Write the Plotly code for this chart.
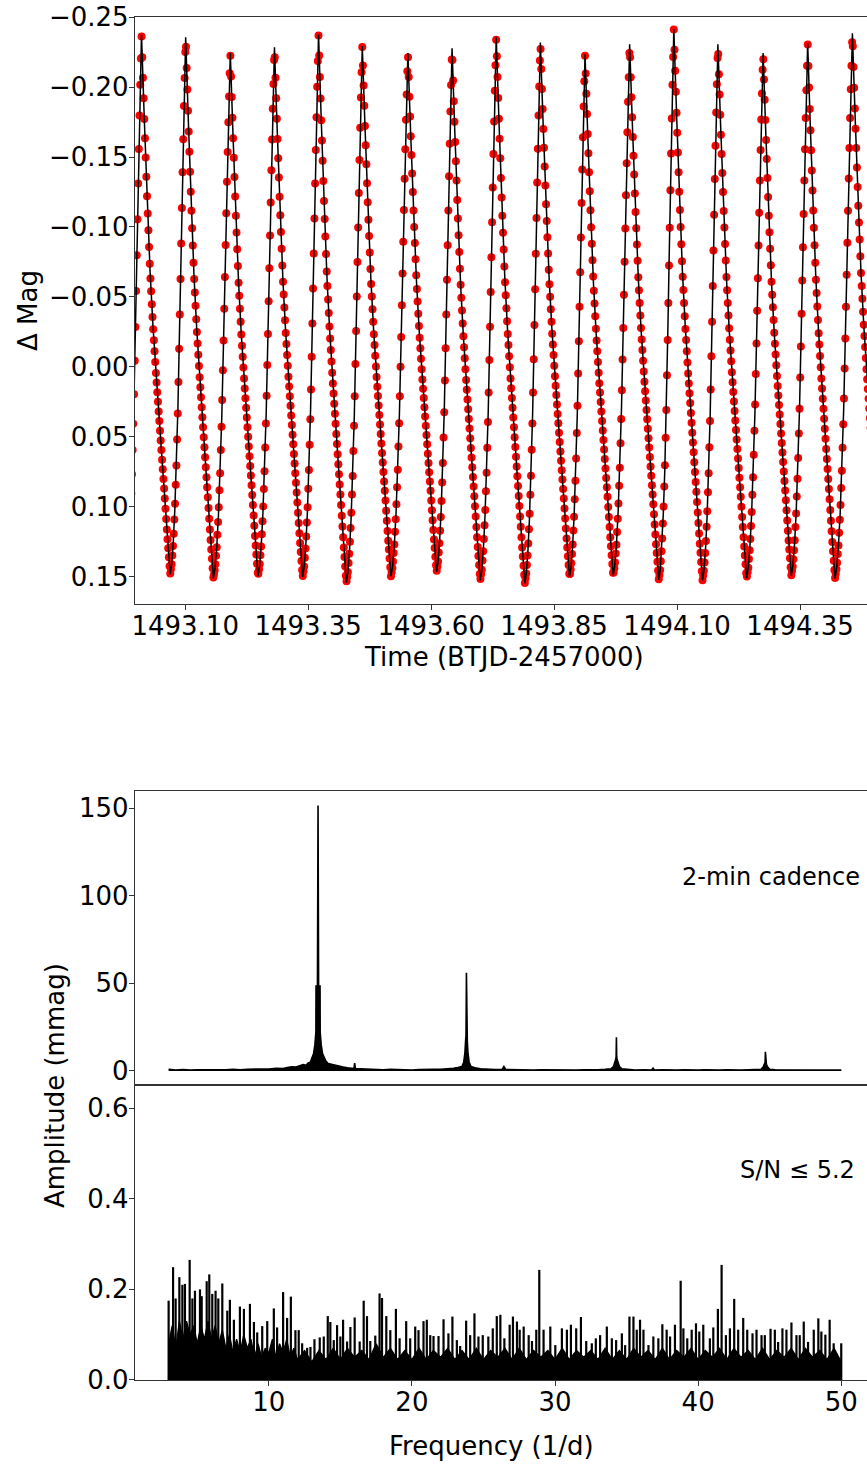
import numpy as np
import plotly.graph_objects as go

# ---------------- Light curve ----------------
# Times (BTJD-2457000) and Delta Mag of the light-curve maxima and minima
max_times = [1493.0112, 1493.1010, 1493.1917, 1493.2815, 1493.3711, 1493.4600,
             1493.5527, 1493.6425, 1493.7323, 1493.8220, 1493.9128, 1494.0035,
             1494.0933, 1494.1829, 1494.2748, 1494.3654, 1494.4563]
max_mags = [-0.2374, -0.2355, -0.2243, -0.2283, -0.2374, -0.2293, -0.2243,
            -0.2276, -0.2355, -0.2317, -0.2233, -0.2305, -0.2414, -0.2305,
            -0.2243, -0.2314, -0.2383]
min_times = [1492.9797, 1493.0695, 1493.1573, 1493.2480, 1493.3388, 1493.4276,
             1493.5183, 1493.6110, 1493.6998, 1493.7904, 1493.8813, 1493.9701,
             1494.0628, 1494.1516, 1494.2413, 1494.3321, 1494.4209, 1494.5146]
min_mags = [0.150, 0.148, 0.151, 0.1495, 0.150, 0.154, 0.1495, 0.1464, 0.1524,
            0.1545, 0.150, 0.149, 0.152, 0.1524, 0.151, 0.149, 0.151, 0.150]

# Shape of one pulsation cycle (fraction of branch duration / of amplitude)
rise_phase = [0.0, 0.1, 0.2, 0.3, 0.4, 0.5, 0.6, 0.7, 0.8, 0.9, 1.0]
rise_frac = [0.0, 0.02, 0.06, 0.12, 0.20, 0.31, 0.45, 0.60, 0.75, 0.89, 1.0]
fall_phase = [0.0, 0.1, 0.2, 0.3, 0.4, 0.5, 0.6, 0.7, 0.8, 0.9, 1.0]
fall_frac = [0.0, 0.16, 0.31, 0.44, 0.54, 0.625, 0.70, 0.775, 0.85, 0.93, 1.0]

cadence_days = 2.0 / 1440.0
obs_start, obs_end = 1492.9905, 1494.515

# ---------------- Periodogram, 2-min cadence (mmag) ----------------
freq_top = [3.0, 3.5, 4.0, 4.5, 5.0, 5.5, 6.0, 6.5, 7.0, 7.5, 8.0, 8.5, 9.0, 9.5,
            10.0, 10.5, 11.0, 11.3, 11.6, 11.9, 12.2, 12.4, 12.6, 12.75, 12.9,
            13.02, 13.13, 13.22, 13.29, 13.30, 13.40, 13.44, 13.48, 13.58, 13.59,
            13.66, 13.75, 13.86, 14.0, 14.15, 14.35, 14.6, 14.9, 15.2, 15.5, 15.8,
            15.95, 16.0, 16.05, 16.4, 17.0, 17.5, 18.0, 18.5, 19.0, 19.5, 20.0,
            20.5, 21.0, 21.5, 22.0, 22.5, 22.9, 23.2, 23.5, 23.62, 23.70, 23.75,
            23.78, 23.81, 23.84, 23.87, 23.92, 24.00, 24.12, 24.4, 24.8, 25.3,
            25.8, 26.3, 26.43, 26.56, 27.0, 27.5, 28.0, 28.5, 29.0, 29.5, 30.0,
            30.5, 31.0, 31.5, 32.0, 32.5, 33.0, 33.5, 33.9, 34.08, 34.18, 34.24,
            34.27, 34.29, 34.31, 34.34, 34.40, 34.50, 34.68, 35.1, 35.6, 36.2,
            36.75, 36.85, 36.95, 37.5, 38.0, 38.5, 39.0, 39.5, 40.0, 40.5, 41.0,
            41.5, 42.0, 42.5, 43.0, 43.5, 44.0, 44.4, 44.54, 44.63, 44.68, 44.70,
            44.72, 44.77, 44.86, 45.0, 45.4, 46.0, 46.5, 47.0, 47.5, 48.0, 48.5,
            49.0, 49.5, 50.0]
amp_top = [0.9, 0.6, 0.8, 0.5, 0.7, 0.6, 0.8, 0.6, 0.7, 0.9, 0.7, 1.0, 0.9, 1.2,
           1.1, 1.5, 1.4, 2.0, 2.4, 2.2, 3.0, 3.6, 3.2, 4.6, 5.0, 8.0, 10.0, 15.0,
           22.0, 48.5, 48.5, 151.5, 48.5, 48.5, 22.0, 15.0, 10.0, 8.0, 5.5, 4.2,
           3.8, 3.0, 2.6, 2.2, 1.8, 1.5, 1.4, 4.5, 1.3, 1.2, 0.9, 0.8, 0.7, 0.9,
           0.7, 0.8, 0.6, 0.8, 0.7, 0.9, 1.0, 1.2, 1.6, 2.0, 2.6, 5.0, 10.0, 17.0,
           20.0, 56.0, 20.0, 17.0, 10.0, 5.0, 2.6, 1.8, 1.3, 1.0, 0.8, 0.9, 2.5,
           0.8, 0.7, 0.6, 0.8, 0.6, 0.7, 0.6, 0.7, 0.5, 0.7, 0.6, 0.7, 0.6, 0.7,
           0.9, 1.2, 2.5, 4.5, 6.5, 8.0, 19.2, 8.0, 6.5, 4.5, 2.5, 1.2, 0.8, 0.6,
           0.7, 0.6, 1.7, 0.6, 0.7, 0.5, 0.6, 0.7, 0.5, 0.6, 0.7, 0.5, 0.6, 0.7,
           0.5, 0.6, 0.7, 0.8, 1.0, 2.2, 3.8, 5.0, 11.0, 5.0, 3.8, 2.2, 1.0, 0.7,
           0.6, 0.5, 0.6, 0.7, 0.5, 0.6, 0.6, 0.5, 0.6]

# ---------------- Residual periodogram, S/N <= 5.2 (mmag) ----------------
spike_freq = [3.0, 3.31, 3.49, 3.75, 3.96, 4.14, 4.47, 4.66, 4.84, 5.19, 5.31, 5.66,
              5.84, 6.05, 6.28, 6.47, 6.75, 7.10, 7.28, 7.56, 7.98, 8.26, 8.68, 8.96,
              9.19, 9.54, 9.89, 10.35, 10.58, 11.00, 11.28, 11.54, 11.86, 12.09,
              12.33, 12.68, 12.91, 13.19, 13.56, 13.84, 14.12, 14.30, 14.54, 14.77,
              15.00, 15.19, 15.47, 15.70, 16.00, 16.35, 16.63, 16.86, 17.09, 17.44,
              17.74, 17.91, 18.21, 18.49, 18.88, 19.14, 19.60, 19.88, 20.23, 20.46,
              20.81, 21.04, 21.28, 21.51, 21.86, 22.21, 22.55, 22.83, 23.14, 23.37,
              23.79, 24.07, 24.37, 24.65, 24.95, 25.34, 25.65, 25.93, 26.18, 26.46,
              26.83, 27.06, 27.34, 27.53, 27.81, 28.16, 28.39, 28.69, 28.90, 29.20,
              29.67, 30.02, 30.48, 30.83, 31.11, 31.48, 31.81, 32.18, 32.57, 32.85,
              33.15, 33.62, 33.97, 34.27, 34.67, 34.90, 35.20, 35.48, 35.71, 35.94,
              36.18, 36.53, 36.87, 37.22, 37.50, 37.80, 38.04, 38.38, 38.78, 38.97,
              39.24, 39.55, 39.85, 40.08, 40.36, 40.82, 41.06, 41.38, 41.64, 41.94,
              42.22, 42.52, 42.80, 43.15, 43.43, 43.80, 44.08, 44.43, 44.66, 45.06,
              45.36, 45.59, 45.89, 46.17, 46.52, 46.87, 47.10, 47.38, 47.68, 48.08,
              48.40, 48.61, 48.89, 49.19, 49.47, 49.77, 50.0]
spike_amp = [0.175, 0.249, 0.180, 0.227, 0.210, 0.212, 0.265, 0.180, 0.197, 0.200,
             0.185, 0.218, 0.233, 0.190, 0.197, 0.180, 0.213, 0.153, 0.177, 0.133,
             0.162, 0.157, 0.168, 0.128, 0.105, 0.119, 0.130, 0.158, 0.116, 0.194,
             0.137, 0.184, 0.110, 0.110, 0.081, 0.071, 0.073, 0.090, 0.094, 0.096,
             0.141, 0.128, 0.088, 0.121, 0.096, 0.133, 0.085, 0.117, 0.138, 0.085,
             0.175, 0.141, 0.086, 0.098, 0.191, 0.181, 0.141, 0.110, 0.157, 0.092,
             0.130, 0.092, 0.118, 0.110, 0.130, 0.133, 0.099, 0.097, 0.097, 0.134,
             0.103, 0.140, 0.088, 0.075, 0.131, 0.099, 0.147, 0.096, 0.099, 0.096,
             0.114, 0.141, 0.144, 0.092, 0.122, 0.140, 0.129, 0.111, 0.118, 0.099,
             0.086, 0.111, 0.243, 0.111, 0.118, 0.077, 0.114, 0.111, 0.122, 0.114,
             0.139, 0.086, 0.081, 0.092, 0.099, 0.118, 0.092, 0.088, 0.103, 0.077,
             0.140, 0.140, 0.111, 0.133, 0.111, 0.077, 0.096, 0.092, 0.123, 0.111,
             0.096, 0.122, 0.219, 0.114, 0.092, 0.111, 0.125, 0.107, 0.122, 0.092,
             0.116, 0.157, 0.254, 0.099, 0.114, 0.179, 0.111, 0.137, 0.111, 0.103,
             0.111, 0.099, 0.099, 0.113, 0.111, 0.084, 0.114, 0.111, 0.127, 0.099,
             0.099, 0.129, 0.084, 0.111, 0.136, 0.107, 0.100, 0.133, 0.081, 0.048,
             0.081]
# Jagged upper edge of the dense noise band
floor_freq = [3.0, 3.25, 3.5, 3.75, 4.0, 4.25, 4.5, 4.75, 5.0, 5.25, 5.5, 5.75, 6.0,
              6.25, 6.5, 6.75, 7.0, 7.25, 7.5, 7.75, 8.0, 8.25, 8.5, 8.75, 9.0, 9.25,
              9.5, 9.75, 10.0, 10.25, 10.5, 10.75, 11.0, 11.25, 11.5, 11.75, 12.0,
              12.5, 13.0, 13.5, 14.0, 14.5, 15.0, 15.5, 16.0, 16.5, 17.0, 17.5, 18.0,
              18.5, 19.0, 19.5, 20.0, 20.5, 21.0, 21.5, 22.0, 22.5, 23.0, 23.5, 24.0,
              24.5, 25.0, 25.5, 26.0, 26.5, 27.0, 27.5, 28.0, 28.5, 29.0, 29.5, 30.0,
              30.5, 31.0, 31.5, 32.0, 32.5, 33.0, 33.5, 34.0, 34.5, 35.0, 35.5, 36.0,
              36.5, 37.0, 37.5, 38.0, 38.5, 39.0, 39.5, 40.0, 40.5, 41.0, 41.5, 42.0,
              42.5, 43.0, 43.5, 44.0, 44.5, 45.0, 45.5, 46.0, 46.5, 47.0, 47.5, 48.0,
              48.5, 49.0, 49.5, 50.0]
floor_amp = [0.08, 0.12, 0.07, 0.13, 0.09, 0.13, 0.10, 0.12, 0.08, 0.12, 0.09, 0.13,
             0.09, 0.12, 0.08, 0.11, 0.07, 0.10, 0.06, 0.09, 0.06, 0.10, 0.07, 0.09,
             0.05, 0.08, 0.05, 0.07, 0.06, 0.09, 0.05, 0.08, 0.06, 0.09, 0.05, 0.07,
             0.045, 0.065, 0.04, 0.065, 0.045, 0.07, 0.045, 0.07, 0.05, 0.065, 0.045,
             0.08, 0.05, 0.07, 0.045, 0.065, 0.045, 0.07, 0.045, 0.065, 0.05, 0.07,
             0.045, 0.065, 0.045, 0.07, 0.045, 0.065, 0.05, 0.07, 0.045, 0.07, 0.045,
             0.065, 0.05, 0.065, 0.045, 0.07, 0.045, 0.065, 0.05, 0.065, 0.045, 0.07,
             0.045, 0.065, 0.045, 0.07, 0.05, 0.065, 0.045, 0.07, 0.045, 0.065, 0.05,
             0.07, 0.045, 0.065, 0.05, 0.07, 0.045, 0.07, 0.05, 0.065, 0.045, 0.07,
             0.045, 0.065, 0.05, 0.07, 0.045, 0.07, 0.05, 0.065, 0.045, 0.07, 0.04]

# ---------------- Build light-curve model line from read extrema ----------------
line_t, line_m = [], []
for i in range(len(max_times)):
    t0, m0 = min_times[i], min_mags[i]
    t1, m1 = max_times[i], max_mags[i]
    for p, f in zip(rise_phase[:-1], rise_frac[:-1]):
        line_t.append(t0 + p * (t1 - t0))
        line_m.append(m0 + f * (m1 - m0))
    t2, m2 = min_times[i + 1], min_mags[i + 1]
    for p, f in zip(fall_phase[:-1], fall_frac[:-1]):
        line_t.append(t1 + p * (t2 - t1))
        line_m.append(m1 + f * (m2 - m1))
line_t.append(min_times[-1])
line_m.append(min_mags[-1])

t_obs = np.arange(obs_start, obs_end, cadence_days)
m_obs = np.interp(t_obs, line_t, line_m)

spike_x, spike_y = [], []
for f, a in zip(spike_freq, spike_amp):
    spike_x += [f, f, None]
    spike_y += [0.0, a, None]

# ---------------- Figure ----------------
FONT = "DejaVu Sans"
fig = go.Figure()
fig.add_trace(go.Scatter(x=t_obs, y=m_obs, mode="markers",
                         marker=dict(color="#ff0000", size=8, line=dict(width=0)),
                         xaxis="x", yaxis="y", showlegend=False))
fig.add_trace(go.Scatter(x=line_t, y=line_m, mode="lines",
                         line=dict(color="black", width=1.5),
                         xaxis="x", yaxis="y", showlegend=False))
fig.add_trace(go.Scatter(x=freq_top, y=amp_top, mode="lines", fill="tozeroy",
                         fillcolor="black", line=dict(color="black", width=1.6),
                         xaxis="x2", yaxis="y2", showlegend=False))
fig.add_trace(go.Scatter(x=floor_freq, y=floor_amp, mode="lines", fill="tozeroy",
                         fillcolor="black", line=dict(color="black", width=1.3),
                         xaxis="x3", yaxis="y3", showlegend=False))
fig.add_trace(go.Scatter(x=spike_x, y=spike_y, mode="lines",
                         line=dict(color="black", width=2.2),
                         xaxis="x3", yaxis="y3", showlegend=False))

axis_common = dict(showline=True, linecolor="#333333", linewidth=1.3,
                   ticklen=5, tickwidth=1.2, tickcolor="#333333", showgrid=False,
                   zeroline=False, tickfont=dict(family=FONT, size=26, color="black"))

lc_ticks = [1493.10, 1493.35, 1493.60, 1493.85, 1494.10, 1494.35]
mag_ticks = [-0.25, -0.20, -0.15, -0.10, -0.05, 0.00, 0.05, 0.10, 0.15]

def fmt(v, nd):
    s = f"{v:.{nd}f}"
    return s.replace("-", "\u2212")

fig.update_layout(
    width=867, height=1464,
    margin=dict(l=135, r=0, t=17, b=84),
    paper_bgcolor="white", plot_bgcolor="white",
    font=dict(family=FONT, size=26, color="black"),
    xaxis=dict(domain=[0, 1], anchor="y", range=[1492.998, 1494.486], mirror=True,
               ticks="outside", ticklabelstandoff=-6,
               tickvals=lc_ticks, ticktext=[fmt(v, 2) for v in lc_ticks], **axis_common),
    yaxis=dict(domain=[0.56933, 1.0], anchor="x", range=[0.1693, -0.25],
               ticks="outside", ticklabelstandoff=-5,
               tickvals=mag_ticks, ticktext=[fmt(v, 2) for v in mag_ticks], **axis_common),
    xaxis2=dict(domain=[0, 1], anchor="y2", range=[0.65, 51.80], mirror=True,
                showticklabels=False, ticks="", **axis_common),
    yaxis2=dict(domain=[0.21643, 0.43213], anchor="x2", range=[-8.0, 159.7],
                ticks="outside", ticklabelstandoff=-5,
                tickvals=[0, 50, 100, 150], **axis_common),
    xaxis3=dict(domain=[0, 1], anchor="y3", range=[0.65, 51.80], mirror=True,
                ticks="outside", ticklabelstandoff=-6,
                tickvals=[10, 20, 30, 40, 50], **axis_common),
    yaxis3=dict(domain=[0, 0.21643], anchor="x3", range=[0, 0.651],
                ticks="outside", ticklabelstandoff=-5,
                tickvals=[0.0, 0.2, 0.4, 0.6], ticktext=["0.0", "0.2", "0.4", "0.6"],
                **axis_common),
)

ann = dict(showarrow=False, font=dict(family=FONT, size=26, color="black"))
fig.add_annotation(text="Time (BTJD-2457000)", xref="paper", yref="paper",
                   x=0.504, y=0.5304, xanchor="center", yanchor="middle", **ann)
fig.add_annotation(text="\u0394 Mag", xref="paper", yref="paper", textangle=-90,
                   x=-0.1462, y=0.785, xanchor="center", yanchor="middle", **ann)
fig.add_annotation(text="Amplitude (mmag)", xref="paper", yref="paper", textangle=-90,
                   x=-0.1093, y=0.2164, xanchor="center", yanchor="middle", **ann)
fig.add_annotation(text="Frequency (1/d)", xref="paper", yref="paper",
                   x=0.4877, y=-0.0484, xanchor="center", yanchor="middle", **ann)
fig.add_annotation(text="2-min cadence", xref="paper", yref="paper",
                   x=0.9932, y=0.369, xanchor="right", yanchor="middle",
                   showarrow=False, font=dict(family=FONT, size=24, color="black"))
fig.add_annotation(text="S/N \u2264 5.2", xref="paper", yref="paper",
                   x=0.9863, y=0.154, xanchor="right", yanchor="middle",
                   showarrow=False, font=dict(family=FONT, size=24, color="black"))

fig.write_html("out.html", config={"displayModeBar": False},
               post_script="document.body.style.margin='0px';"
                           "document.body.style.overflow='hidden';")
